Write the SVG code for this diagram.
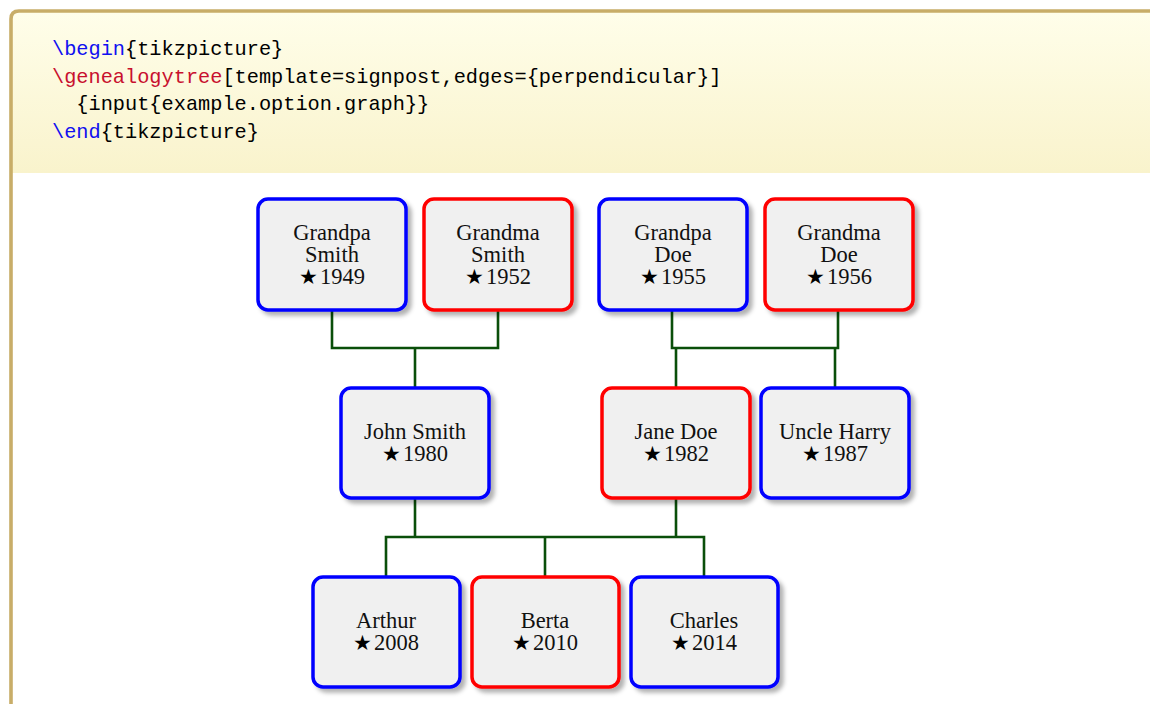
<svg xmlns="http://www.w3.org/2000/svg" width="1150" height="704" viewBox="0 0 1150 704">
<defs>
<linearGradient id="hdr" x1="0" y1="0" x2="0" y2="1">
<stop offset="0" stop-color="#FFFEEA"/>
<stop offset="1" stop-color="#F9F3CC"/>
</linearGradient>
<filter id="sh" x="-20%" y="-20%" width="140%" height="140%">
<feDropShadow dx="4" dy="4" stdDeviation="2.2" flood-color="#000" flood-opacity="0.3"/>
</filter>
</defs>
<style>
.code{font-family:"Liberation Mono","DejaVu Sans Mono",monospace;font-size:20.3px;fill:#000;white-space:pre}
.kw{fill:#1010F0}
.gt{fill:#C8102E}
.box{fill:#F0F0F0;stroke-width:3.5;filter:url(#sh)}
.m{stroke:#0000FF}
.f{stroke:#FF0000}
.lbl{font-family:"Liberation Serif","DejaVu Serif",serif;font-size:22.5px;fill:#111;text-anchor:middle}
.st{font-family:"DejaVu Sans",sans-serif;font-size:21px;fill:#000}
.edge{fill:none;stroke:#0A4F0A;stroke-width:2.6}
</style>
<rect x="0" y="0" width="1150" height="704" fill="#FFFFFF"/>
<path d="M11,173 V19 Q11,11 19,11 H1160 V173 Z" fill="url(#hdr)"/>
<path d="M11,710 V19 Q11,11 19,11 H1160" fill="none" stroke="#C8AD68" stroke-width="3.6"/>
<text class="code" x="52" y="55"><tspan class="kw">\begin</tspan>{tikzpicture}</text>
<text class="code" x="52" y="82.5"><tspan class="gt">\genealogytree</tspan>[template=signpost,edges={perpendicular}]</text>
<text class="code" x="52" y="110">  {input{example.option.graph}}</text>
<text class="code" x="52" y="138"><tspan class="kw">\end</tspan>{tikzpicture}</text>

<g id="connectors">
<path class="edge" d="M332,310 V348 H498 V310"/>
<path class="edge" d="M415,348 V387"/>
<path class="edge" d="M672,310 V348 H838 V310"/>
<path class="edge" d="M676,348 V387"/>
<path class="edge" d="M835,348 V387"/>
<path class="edge" d="M415,498 V537"/>
<path class="edge" d="M676,498 V537"/>
<path class="edge" d="M386,576 V537 H704 V576"/>
<path class="edge" d="M545,537 V576"/>
</g>

<g id="grandpa-smith">
<rect class="box m" x="258" y="199" width="148" height="111" rx="10"/>
<text class="lbl" x="332" y="240">Grandpa</text>
<text class="lbl" x="332" y="262">Smith</text>
<text class="lbl" x="332" y="284"><tspan class="st">★</tspan><tspan dx="2">1949</tspan></text>
</g>
<g id="grandma-smith">
<rect class="box f" x="424" y="199" width="148" height="111" rx="10"/>
<text class="lbl" x="498" y="240">Grandma</text>
<text class="lbl" x="498" y="262">Smith</text>
<text class="lbl" x="498" y="284"><tspan class="st">★</tspan><tspan dx="2">1952</tspan></text>
</g>
<g id="grandpa-doe">
<rect class="box m" x="599" y="199" width="148" height="111" rx="10"/>
<text class="lbl" x="673" y="240">Grandpa</text>
<text class="lbl" x="673" y="262">Doe</text>
<text class="lbl" x="673" y="284"><tspan class="st">★</tspan><tspan dx="2">1955</tspan></text>
</g>
<g id="grandma-doe">
<rect class="box f" x="765" y="199" width="148" height="111" rx="10"/>
<text class="lbl" x="839" y="240">Grandma</text>
<text class="lbl" x="839" y="262">Doe</text>
<text class="lbl" x="839" y="284"><tspan class="st">★</tspan><tspan dx="2">1956</tspan></text>
</g>

<g id="john-smith">
<rect class="box m" x="341" y="388" width="148" height="110" rx="10"/>
<text class="lbl" x="415" y="439">John Smith</text>
<text class="lbl" x="415" y="461"><tspan class="st">★</tspan><tspan dx="2">1980</tspan></text>
</g>
<g id="jane-doe">
<rect class="box f" x="602" y="388" width="148" height="110" rx="10"/>
<text class="lbl" x="676" y="439">Jane Doe</text>
<text class="lbl" x="676" y="461"><tspan class="st">★</tspan><tspan dx="2">1982</tspan></text>
</g>
<g id="uncle-harry">
<rect class="box m" x="761" y="388" width="148" height="110" rx="10"/>
<text class="lbl" x="835" y="439">Uncle Harry</text>
<text class="lbl" x="835" y="461"><tspan class="st">★</tspan><tspan dx="2">1987</tspan></text>
</g>

<g id="arthur">
<rect class="box m" x="313" y="577" width="147" height="110" rx="10"/>
<text class="lbl" x="386" y="628">Arthur</text>
<text class="lbl" x="386" y="650"><tspan class="st">★</tspan><tspan dx="2">2008</tspan></text>
</g>
<g id="berta">
<rect class="box f" x="472" y="577" width="147" height="110" rx="10"/>
<text class="lbl" x="545" y="628">Berta</text>
<text class="lbl" x="545" y="650"><tspan class="st">★</tspan><tspan dx="2">2010</tspan></text>
</g>
<g id="charles">
<rect class="box m" x="631" y="577" width="147" height="110" rx="10"/>
<text class="lbl" x="704" y="628">Charles</text>
<text class="lbl" x="704" y="650"><tspan class="st">★</tspan><tspan dx="2">2014</tspan></text>
</g>
</svg>
